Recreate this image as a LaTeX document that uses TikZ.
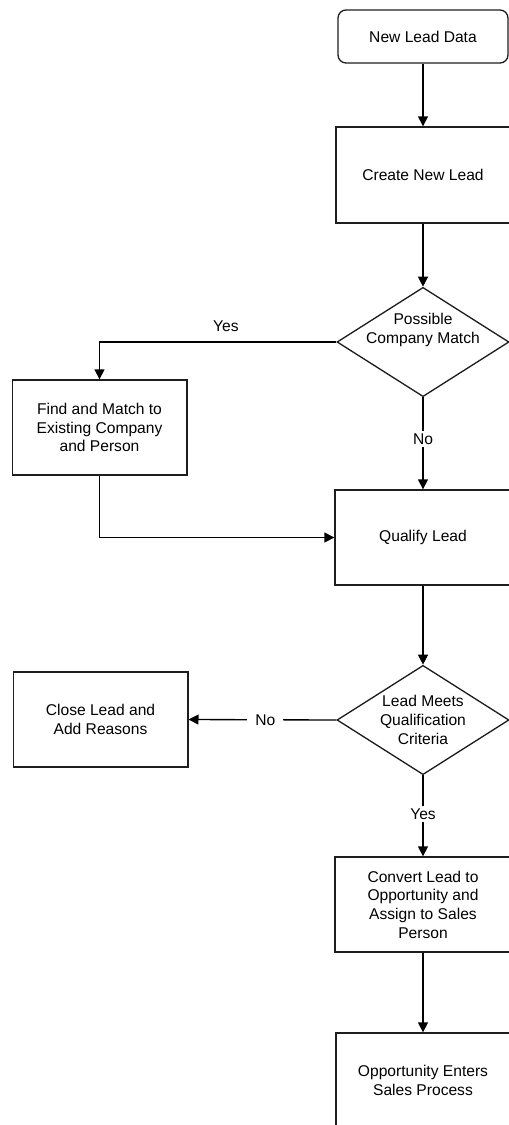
\documentclass[tikz,border=0pt]{standalone}
\usepackage{fontspec}
\setmainfont{Liberation Sans}
\usepackage{tikz}
\usetikzlibrary{positioning,arrows.meta,shapes.geometric,calc}
\definecolor{linegray}{RGB}{30,30,30}
\tikzset{
  process-node/.style={draw=linegray, line width=1pt, minimum width=131pt,
    minimum height=71.25pt, font=\fontsize{11.7}{14}\selectfont, align=center,
    inner sep=2pt},
  start-node/.style={process-node, rounded corners=6pt, minimum width=127.5pt,
    minimum height=39.75pt},
  decision-node/.style={draw=linegray, line width=1pt, diamond, shape aspect=1.58,
    minimum width=129pt, minimum height=82pt, inner sep=-8pt,
    font=\fontsize{11.7}{14}\selectfont, align=center},
  flow-arrow/.style={-{Triangle[length=7.5pt, width=7.5pt]}, line width=1pt, draw=black},
  branch-label/.style={font=\fontsize{11.7}{14}\selectfont, fill=white, inner sep=2pt}
}
\begin{document}
\begin{tikzpicture}[x=0.75pt, y=-0.75pt]
\useasboundingbox (0,0) rectangle (509,1125);
\clip (0,0) rectangle (509,1125);
\node[start-node] (newlead) at (423, 36.5) {New Lead Data};
\node[process-node, minimum width=130.5pt, minimum height=72pt] (create) at (423, 175) {Create New Lead};
\node[decision-node] (match) at (423, 342) {Possible\\Company Match\\[6pt]};
\node[process-node] (find) at (99.5, 427.5) {Find and Match to\\Existing Company\\and Person};
\node[process-node, minimum width=132pt] (qualify) at (423, 537.5) {Qualify Lead};
\node[decision-node] (meets) at (423, 720) {Lead Meets\\Qualification\\Criteria};
\node[process-node] (close) at (100.5, 719.5) {Close Lead and\\Add Reasons};
\node[process-node, minimum width=132pt] (convert) at (423, 904.5) {Convert Lead to\\Opportunity and\\Assign to Sales\\Person};
\node[process-node, minimum width=130.5pt] (opportunity) at (423, 1080.5) {Opportunity Enters\\Sales Process};
\draw[flow-arrow] (newlead) -- (create);
\draw[flow-arrow] (create) -- (match);
\draw[flow-arrow] (match.west) -| node[pos=0.233, above=4pt, font=\fontsize{11.7}{14}\selectfont] {Yes} (find.north);
\draw[flow-arrow] (match.south) -- node[branch-label, pos=0.45] {No} (qualify.north);
\draw[flow-arrow] (find.south) |- (qualify.west);
\draw[flow-arrow] (qualify) -- (meets);
\draw[flow-arrow] (meets.west) -- node[branch-label, pos=0.48, inner xsep=6pt] {No} (close.east);
\draw[flow-arrow] (meets.south) -- node[branch-label, pos=0.48] {Yes} (convert.north);
\draw[flow-arrow] (convert) -- (opportunity);
\end{tikzpicture}
\end{document}
